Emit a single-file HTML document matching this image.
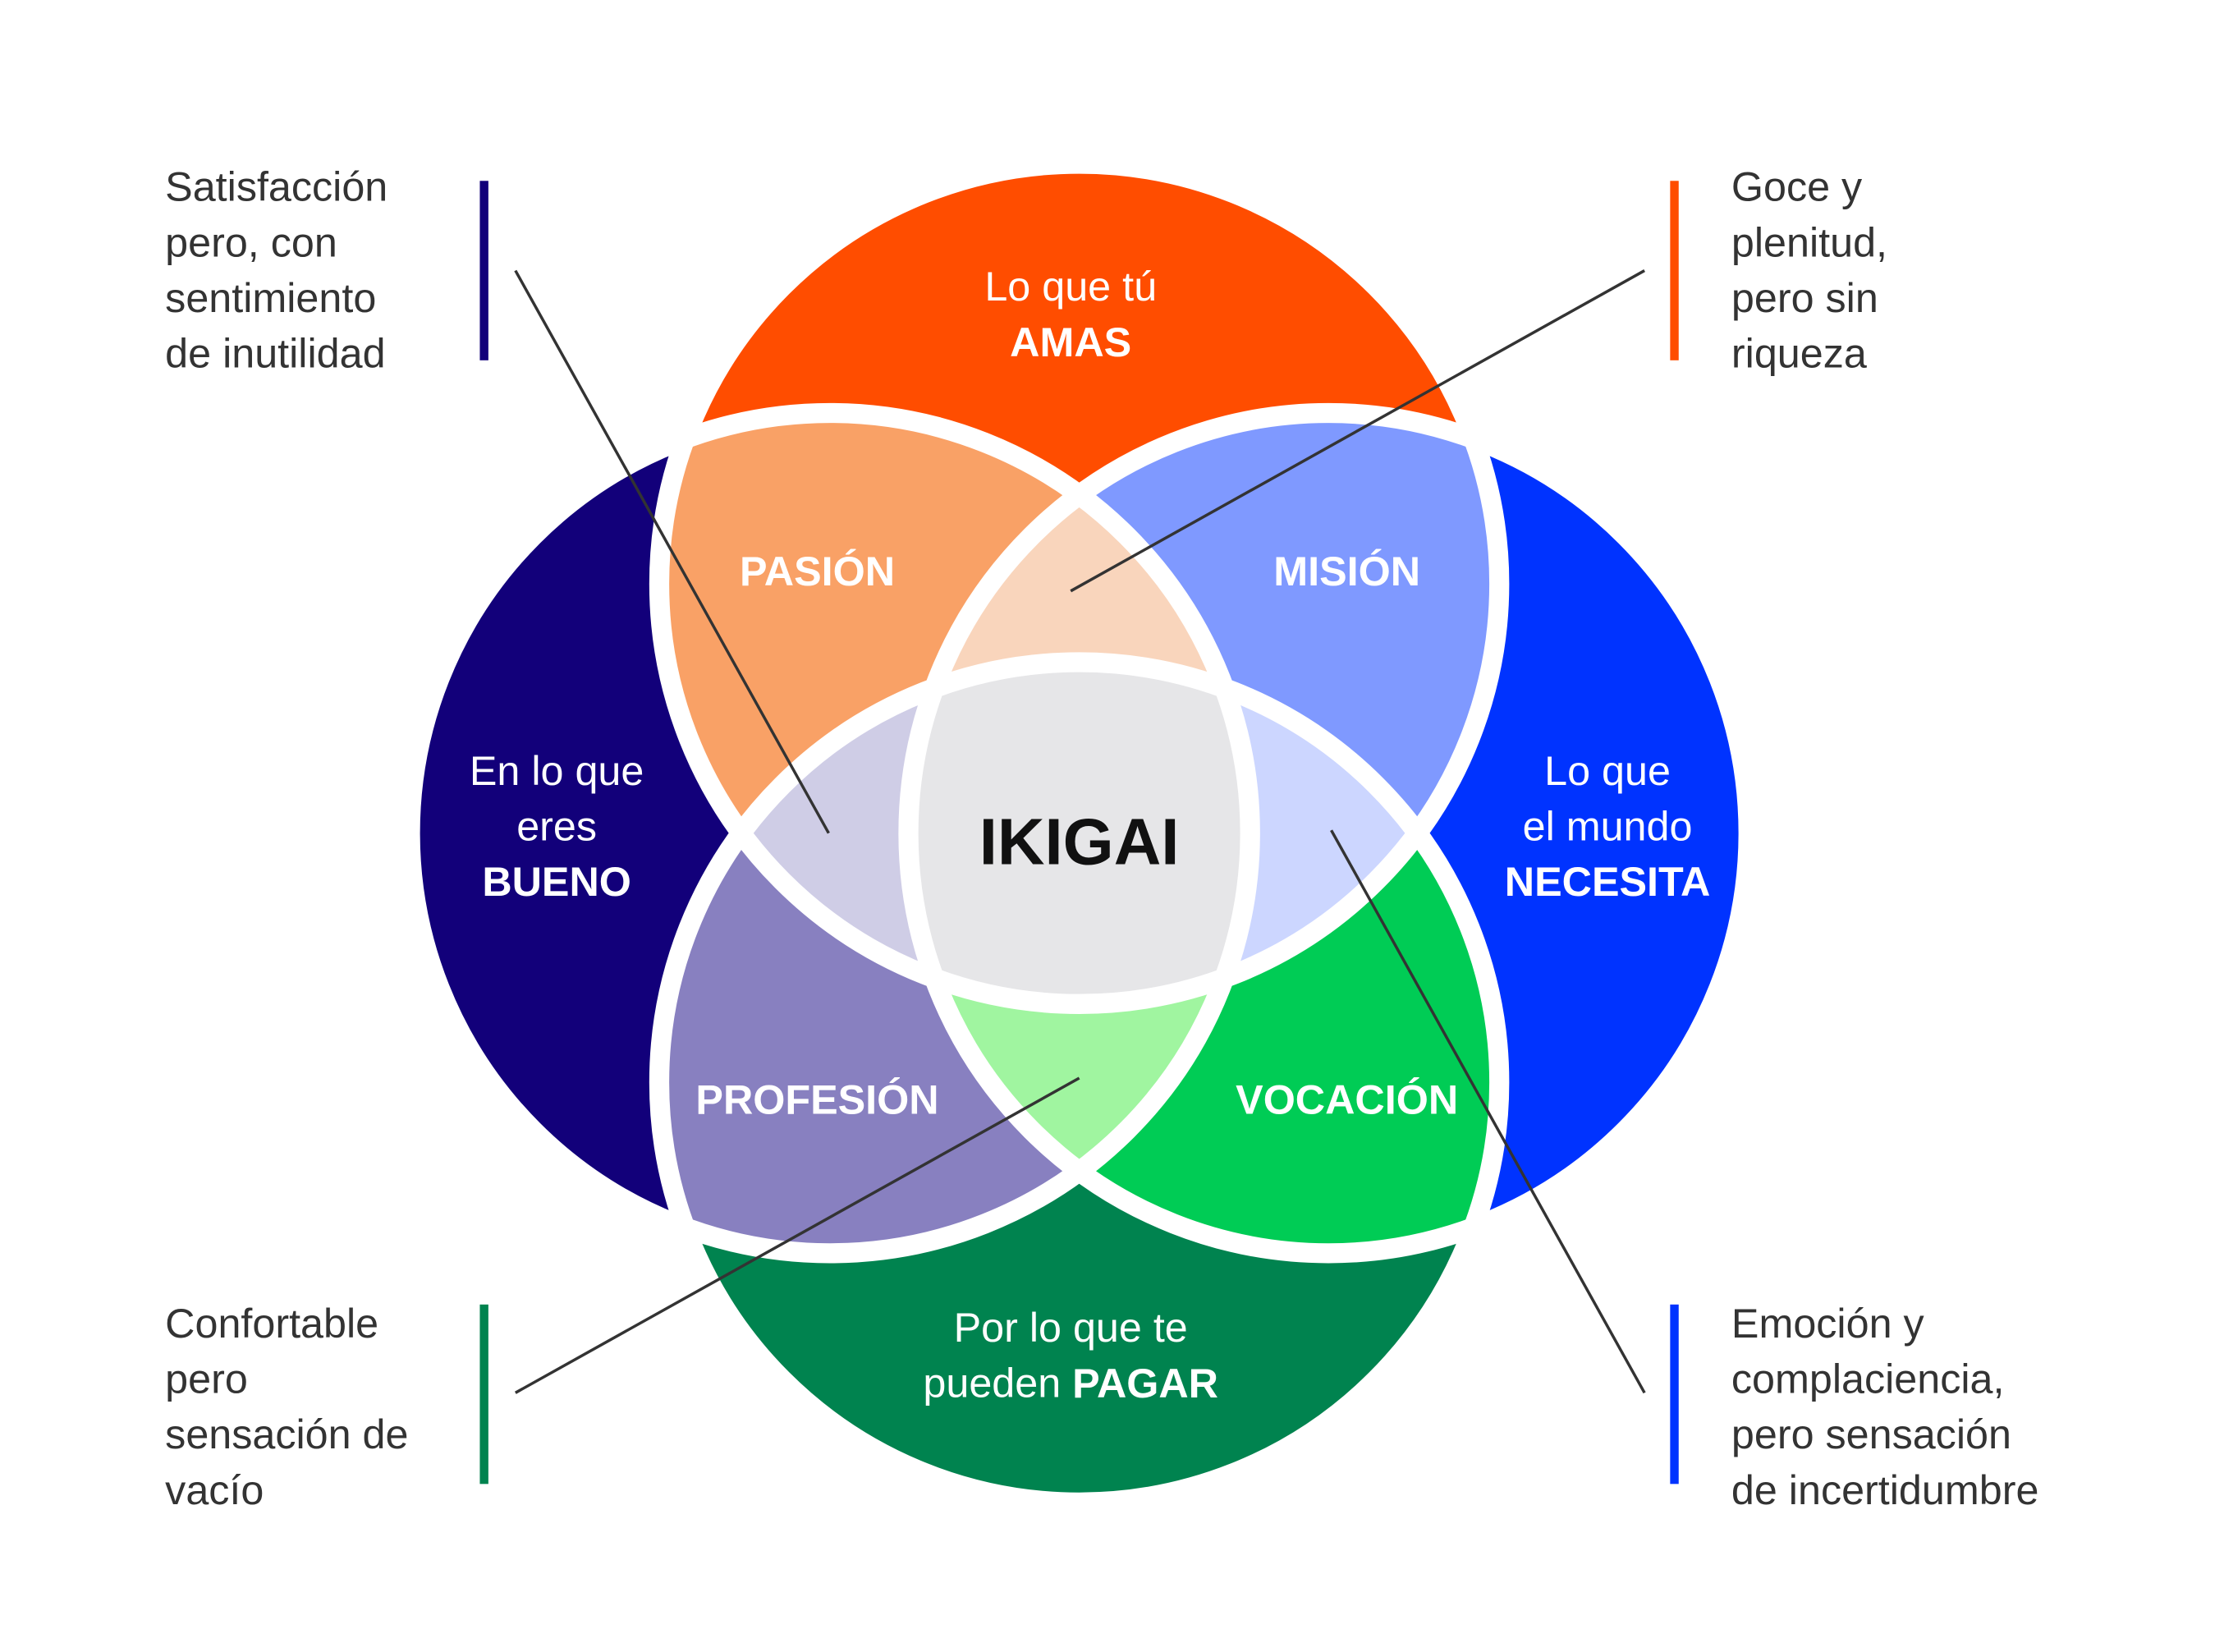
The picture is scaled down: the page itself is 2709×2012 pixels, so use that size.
<!DOCTYPE html>
<html><head><meta charset="utf-8"><style>html,body{margin:0;padding:0;background:#fff}svg{display:block}</style></head>
<body>
<svg width="2709" height="2012" viewBox="0 0 1562 1160" preserveAspectRatio="none" xmlns="http://www.w3.org/2000/svg">
<defs>
<clipPath id="cT"><circle cx="758" cy="410" r="295"/></clipPath>
<clipPath id="cL"><circle cx="583" cy="585" r="295"/></clipPath>
<clipPath id="cR"><circle cx="933" cy="585" r="295"/></clipPath>
<clipPath id="cB"><circle cx="758" cy="760" r="295"/></clipPath>
</defs>
<rect width="1562" height="1160" fill="#fff"/>
<!-- base circles -->
<circle cx="758" cy="410" r="295" fill="#FF4D00"/>
<circle cx="758" cy="760" r="295" fill="#00834F"/>
<circle cx="583" cy="585" r="295" fill="#12007A"/>
<circle cx="933" cy="585" r="295" fill="#0033FF"/>
<!-- pairs -->
<g clip-path="url(#cT)"><circle cx="583" cy="585" r="295" fill="#F9A166"/></g>
<g clip-path="url(#cT)"><circle cx="933" cy="585" r="295" fill="#7F99FF"/></g>
<g clip-path="url(#cB)"><circle cx="583" cy="585" r="295" fill="#8880C0"/></g>
<g clip-path="url(#cB)"><circle cx="933" cy="585" r="295" fill="#00CC55"/></g>
<!-- triples -->
<g clip-path="url(#cT)"><g clip-path="url(#cL)"><circle cx="933" cy="585" r="295" fill="#F9D5BC"/></g></g>
<g clip-path="url(#cT)"><g clip-path="url(#cB)"><circle cx="583" cy="585" r="295" fill="#CFCDE6"/></g></g>
<g clip-path="url(#cT)"><g clip-path="url(#cB)"><circle cx="933" cy="585" r="295" fill="#CCD6FF"/></g></g>
<g clip-path="url(#cL)"><g clip-path="url(#cR)"><circle cx="758" cy="760" r="295" fill="#A0F5A0"/></g></g>
<!-- quad -->
<g clip-path="url(#cT)"><g clip-path="url(#cB)"><g clip-path="url(#cL)"><circle cx="933" cy="585" r="295" fill="#E6E6E8"/></g></g></g>
<!-- white outlines -->
<g fill="none" stroke="#fff" stroke-width="14">
<circle cx="758" cy="410" r="295"/>
<circle cx="758" cy="760" r="295"/>
<circle cx="583" cy="585" r="295"/>
<circle cx="933" cy="585" r="295"/>
</g>
<!-- connector lines -->
<g stroke="#333" stroke-width="2">
<line x1="362" y1="190" x2="582" y2="585"/>
<line x1="1155" y1="190" x2="752" y2="415"/>
<line x1="362" y1="978" x2="758" y2="757"/>
<line x1="1155" y1="978" x2="935" y2="583"/>
</g>
<!-- bars -->
<rect x="337" y="127" width="6" height="126" fill="#12007A"/>
<rect x="1173" y="127" width="6" height="126" fill="#FF4D00"/>
<rect x="337" y="916" width="6" height="126" fill="#00834F"/>
<rect x="1173" y="916" width="6" height="126" fill="#0033FF"/>
<g font-family="Liberation Sans, sans-serif" font-size="29" dominant-baseline="central">
<g fill="#fff" text-anchor="middle">
<text x="752" y="201">Lo que tú</text>
<text x="752" y="240" font-weight="bold">AMAS</text>
<text x="391" y="541">En lo que</text>
<text x="391" y="580">eres</text>
<text x="391" y="619" font-weight="bold">BUENO</text>
<text x="1129" y="541">Lo que</text>
<text x="1129" y="580">el mundo</text>
<text x="1129" y="619" font-weight="bold">NECESITA</text>
<text x="752" y="932">Por lo que te</text>
<text x="752" y="971">pueden <tspan font-weight="bold">PAGAR</tspan></text>
<text x="574" y="401" font-weight="bold">PASIÓN</text>
<text x="946" y="401" font-weight="bold">MISIÓN</text>
<text x="574" y="772" font-weight="bold">PROFESIÓN</text>
<text x="946" y="772" font-weight="bold">VOCACIÓN</text>
</g>
<text x="758" y="591" text-anchor="middle" font-size="46" font-weight="bold" fill="#111">IKIGAI</text>
<g fill="#333">
<text x="116" y="131">Satisfacción</text>
<text x="116" y="170">pero, con</text>
<text x="116" y="209">sentimiento</text>
<text x="116" y="248">de inutilidad</text>
<text x="1216" y="131">Goce y</text>
<text x="1216" y="170">plenitud,</text>
<text x="1216" y="209">pero sin</text>
<text x="1216" y="248">riqueza</text>
<text x="116" y="929">Confortable</text>
<text x="116" y="968">pero</text>
<text x="116" y="1007">sensación de</text>
<text x="116" y="1046">vacío</text>
<text x="1216" y="929">Emoción y</text>
<text x="1216" y="968">complaciencia,</text>
<text x="1216" y="1007">pero sensación</text>
<text x="1216" y="1046">de incertidumbre</text>
</g>
</g>
</svg>
</body></html>
